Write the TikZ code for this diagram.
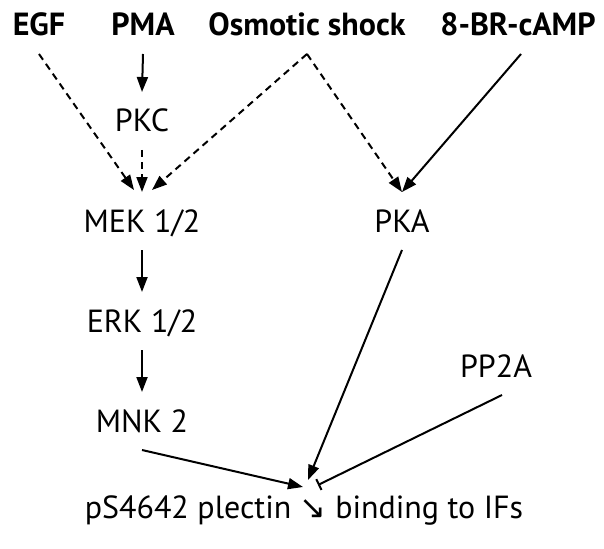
\documentclass[tikz,border=0pt]{standalone}
\usepackage{fontspec}
\setmainfont{PT Sans}
\newfontfamily\arrowfont{DejaVu Sans}
\usetikzlibrary{calc}
\usetikzlibrary{arrows.meta}

\begin{document}
\begin{tikzpicture}[x=1pt, y=-1pt]
	\tikzset{every node/.style = {font=\fontsize{32}{38}\selectfont, inner sep=0pt, outer xsep=0pt, outer ysep=18pt, text height=22pt, text depth=0pt, anchor=base}}
	\tikzset{stimulus/.style = {font=\fontsize{32}{38}\selectfont\bfseries}}
	\tikzset{act/.style = {-{Triangle[length=15pt, width=11pt]}, line width=2pt}}
	\tikzset{indirect/.style = {act, dash pattern=on 7pt off 5pt}}
	\tikzset{inhib/.style = {-{Bar[width=12pt]}, line width=2pt}}

\useasboundingbox (0,0) rectangle (604,548);

%% Stimuli
\draw (39,36) node[stimulus, name = egf]{EGF};
\draw (143,36) node[stimulus, name = pma]{PMA};
\draw (307,36) node[stimulus, name = osmo]{Osmotic shock};
\draw (518,36) node[stimulus, name = camp]{8-BR-cAMP};

%% Kinases and phosphatase
\draw (142,132) node[name = pkc]{PKC};
\draw (142,232) node[name = mek]{MEK 1/2};
\draw (142,332) node[name = erk]{ERK 1/2};
\draw (142,432) node[name = mnk]{MNK 2};
\draw (402,232) node[name = pka]{PKA};
\draw (496,377) node[name = pp2a]{PP2A};

%% Plectin
\draw (304,518) node[name = plectin]{pS4642 plectin {\arrowfont ↘} binding to IFs};

%% Edges
\draw[indirect] (egf.south) -- ($(mek.north)+(-8,-2)$);
\draw[act] (pma.south) -- (pkc.north);
\draw[indirect] (pkc.south) -- (mek.north);
\draw[indirect] (osmo.south) -- ($(mek.north)+(10,-2)$);
\draw[indirect] (osmo.south) -- (pka.north);
\draw[act] ($(camp.south)+(3,0)$) -- (pka.north);
\draw[act] (mek.south) -- (erk.north);
\draw[act] (erk.south) -- (mnk.north);
\draw[act] (mnk.south) -- ($(plectin.north)+(-1,9)$);
\draw[act] (pka.south) -- ($(plectin.north)+(4,2)$);
\draw[inhib] ($(pp2a.south)+(6,0)$) -- ($(plectin.north)+(14,7)$);
\end{tikzpicture}
\end{document}
